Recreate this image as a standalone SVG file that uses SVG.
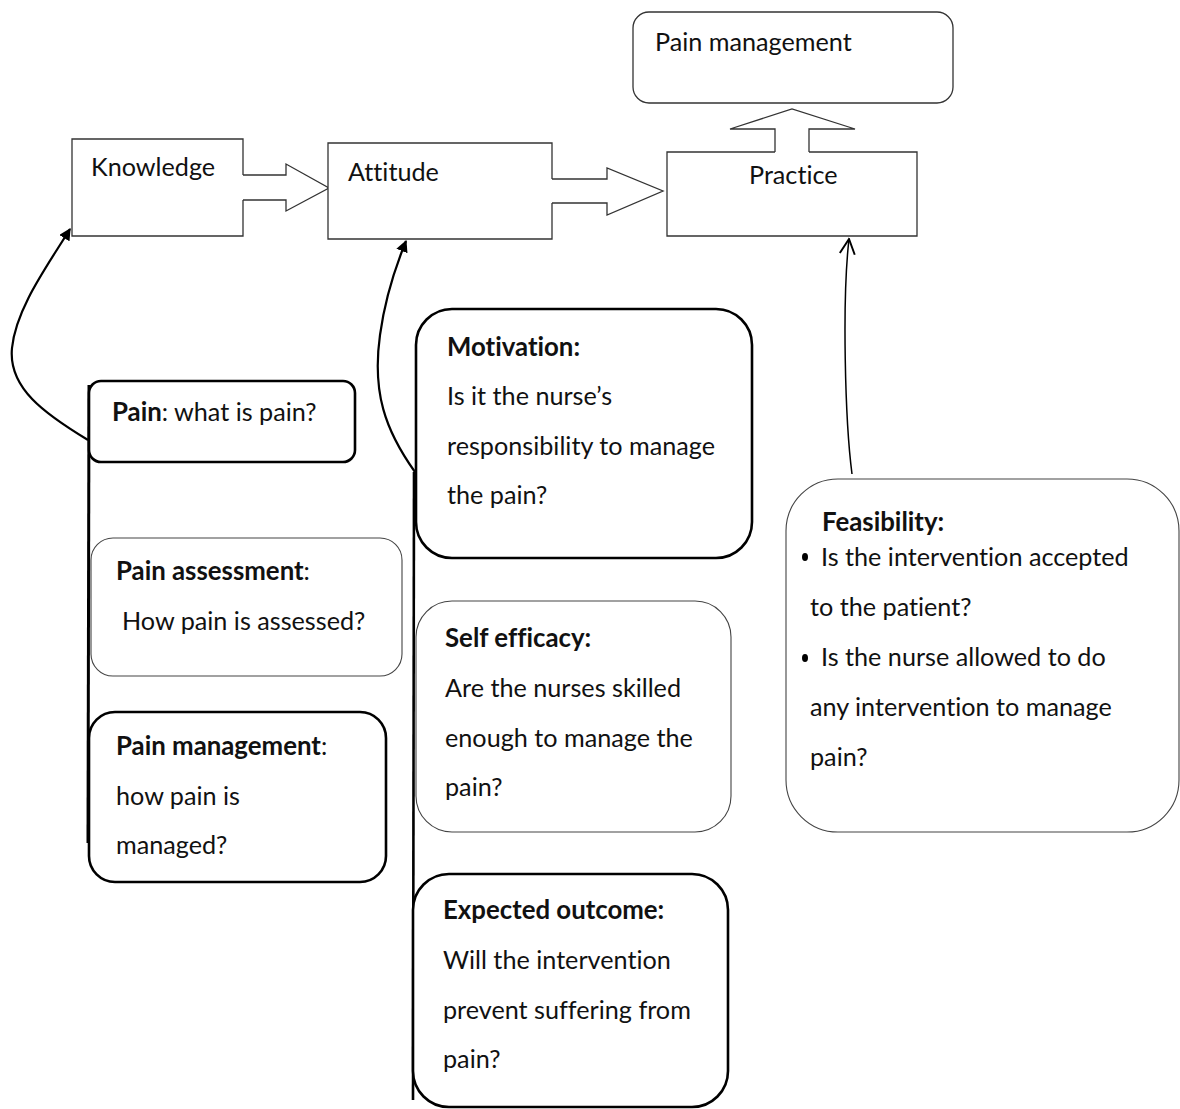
<svg xmlns="http://www.w3.org/2000/svg" width="1180" height="1109" viewBox="0 0 1180 1109">
<defs>
<marker id="solid" viewBox="0 0 10 10" refX="9" refY="5" markerWidth="12" markerHeight="12" markerUnits="userSpaceOnUse" orient="auto">
<path d="M0,0 L10,5 L0,10 z" fill="#000"/>
</marker>
<marker id="open" viewBox="0 0 12 12" refX="11" refY="6" markerWidth="18" markerHeight="18" markerUnits="userSpaceOnUse" orient="auto">
<path d="M1,1 L11,6 L1,11" fill="none" stroke="#000" stroke-width="1.3"/>
</marker>
</defs>
<style>
text{font-family:Lato,"Liberation Sans",sans-serif;font-size:25.2px;fill:#111;font-variant-ligatures:none}
.b{font-weight:bold;font-size:25.8px}
.thin{fill:#fff;stroke:#333;stroke-width:1.3}
.thick{fill:#fff;stroke:#000;stroke-width:2.6}
.soft{fill:#fff;stroke:#444;stroke-width:1.1}
.blk{fill:#fff;stroke:#333;stroke-width:1.3;stroke-linejoin:miter}
.con{fill:none;stroke:#000;stroke-width:2.2}
</style>
<rect width="1180" height="1109" fill="#fff"/>

<g id="connectors">
<path class="blk" d="M243,175 H286 V164 L329,188 L286,211 V200 H243"/>
<path class="blk" d="M552,179 H607 V168 L663,191 L607,215 V203 H552"/>
<path class="blk" d="M775,152 V129 H730 L792,109 L855,129 H809 V152"/>
<path class="con" d="M88,440 C45,414 8,388 12,348 C16,308 48,265 70,229" marker-end="url(#solid)"/>
<path class="con" d="M415,472 C385,430 372,392 380,335 C385,298 395,268 406,241" marker-end="url(#solid)"/>
<path fill="none" stroke="#000" stroke-width="1.5" d="M852,474 C845,420 842,300 849,239" marker-end="url(#open)"/>
<line x1="89" y1="385" x2="88" y2="843" stroke="#000" stroke-width="3"/>
<line x1="414" y1="472" x2="413" y2="1100" stroke="#000" stroke-width="2.6"/>
</g>

<g id="pain-management-top">
<rect class="thin" x="633" y="12" width="320" height="91" rx="16"/>
<text x="655" y="51">Pain management</text>
</g>

<g id="knowledge">
<path class="thin" fill="none" d="M243,175 V139 H72 V236 H243 V200"/>
<text x="91" y="176">Knowledge</text>
</g>

<g id="attitude">
<path class="thin" d="M552,179 V143 H328 V239 H552 V203"/>
<text x="348" y="181">Attitude</text>
</g>

<g id="practice">
<path class="thin" d="M775,152 H667 V236 H917 V152 H809"/>
<text x="749" y="184">Practice</text>
</g>

<g id="pain">
<rect class="thick" x="89" y="381" width="266" height="81" rx="12"/>
<text x="112" y="421"><tspan class="b">Pain</tspan>: what is pain?</text>
</g>

<g id="pain-assessment">
<rect class="soft" x="91" y="538" width="311" height="138" rx="22"/>
<text x="116" y="580"><tspan class="b">Pain assessment</tspan>:</text>
<text x="122" y="630">How pain is assessed?</text>
</g>

<g id="pain-management">
<rect class="thick" x="89" y="712" width="297" height="170" rx="26"/>
<text x="116" y="755"><tspan class="b">Pain management</tspan>:</text>
<text x="116" y="805">how pain is</text>
<text x="116" y="854">managed?</text>
</g>

<g id="motivation">
<rect class="thick" x="416" y="309" width="336" height="249" rx="36"/>
<text class="b" x="447" y="356">Motivation:</text>
<text x="447" y="405">Is it the nurse’s</text>
<text x="447" y="455">responsibility to manage</text>
<text x="447" y="504">the pain?</text>
</g>

<g id="self-efficacy">
<rect class="soft" x="416" y="601" width="315" height="231" rx="36"/>
<text class="b" x="445" y="647">Self efficacy:</text>
<text x="445" y="697">Are the nurses skilled</text>
<text x="445" y="747">enough to manage the</text>
<text x="445" y="796">pain?</text>
</g>

<g id="expected-outcome">
<rect class="thick" x="413" y="874" width="315" height="233" rx="36"/>
<text class="b" x="443" y="919">Expected outcome:</text>
<text x="443" y="969">Will the intervention</text>
<text x="443" y="1019">prevent suffering from</text>
<text x="443" y="1068">pain?</text>
</g>

<g id="feasibility">
<rect class="soft" x="786" y="479" width="393" height="353" rx="52"/>
<text class="b" x="822" y="531">Feasibility:</text>
<ellipse cx="805" cy="557" rx="3" ry="4" fill="#000"/>
<text x="821" y="566">Is the intervention accepted</text>
<text x="810" y="616">to the patient?</text>
<ellipse cx="805" cy="658" rx="3" ry="4" fill="#000"/>
<text x="821" y="666">Is the nurse allowed to do</text>
<text x="810" y="716">any intervention to manage</text>
<text x="810" y="766">pain?</text>
</g>
</svg>
